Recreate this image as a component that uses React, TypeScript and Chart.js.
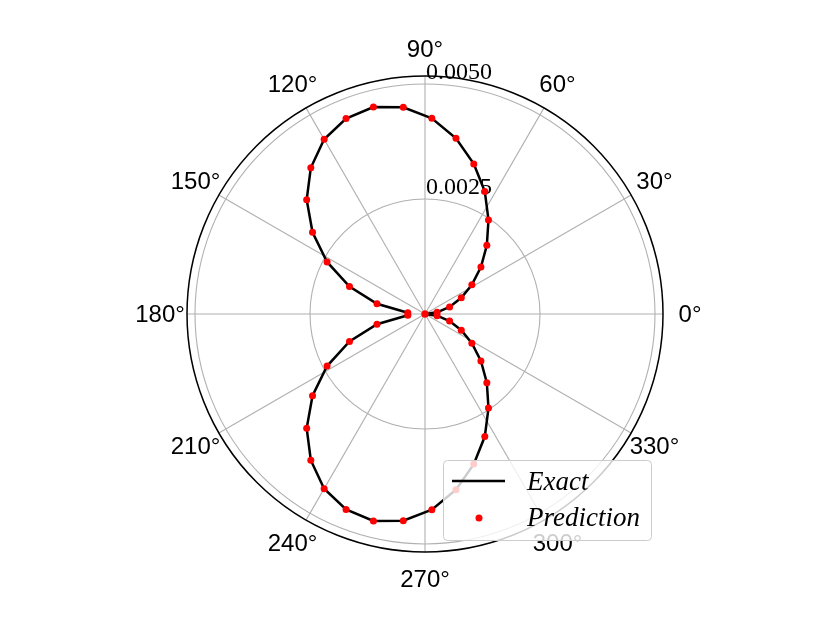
import React, { useEffect, useRef } from "react";
import { Chart, registerables } from "chart.js";

Chart.register(...registerables);

// Angles (degrees) of the samples
const thetaDeg: number[] = [
  0, 8, 16, 24, 32, 40, 48, 56, 64, 72, 80, 88, 96, 104, 112, 120, 128, 136, 144, 152, 160, 168, 176,
  184, 192, 200, 208, 216, 224, 232, 240, 248, 256, 264, 272, 280, 288, 296, 304, 312, 320, 328, 336, 344, 352, 360,
];

// Exact radial values
const exactR: number[] = [
  0, 0.000266, 0.000556, 0.000864, 0.001201, 0.001587, 0.002009, 0.002468, 0.002965, 0.003431, 0.003879,
  0.004258, 0.004519, 0.004636, 0.004582, 0.004385, 0.004032, 0.003576, 0.003022, 0.002411, 0.001747,
  0.001067, 0.000374,
  0.000374, 0.001067, 0.001747, 0.002411, 0.003022, 0.003576, 0.004032, 0.004385, 0.004582, 0.004636,
  0.004519, 0.004258, 0.003879, 0.003431, 0.002965, 0.002468, 0.002009, 0.001587, 0.001201, 0.000864,
  0.000556, 0.000266, 0,
];

// Predicted radial values
const predR: number[] = [
  0, 0.000266, 0.000556, 0.000864, 0.001201, 0.001587, 0.002009, 0.002468, 0.002965, 0.003431, 0.003879,
  0.004258, 0.004519, 0.004636, 0.004582, 0.004385, 0.004032, 0.003576, 0.003022, 0.002411, 0.001747,
  0.001067, 0.000374,
  0.000374, 0.001067, 0.001747, 0.002411, 0.003022, 0.003576, 0.004032, 0.004385, 0.004582, 0.004636,
  0.004519, 0.004258, 0.003879, 0.003431, 0.002965, 0.002468, 0.002009, 0.001587, 0.001201, 0.000864,
  0.000556, 0.000266, 0,
];

const rTicks: number[] = [0.0025, 0.005];
const rTickLabels: string[] = ["0.0025", "0.0050"];
const angleTicks: number[] = [0, 30, 60, 90, 120, 150, 180, 210, 240, 270, 300, 330];
const rMax = 0.0051739;
const legendLabels: string[] = ["Exact", "Prediction"];

const toXY = (r: number[]) =>
  r.map((v, i) => {
    const t = (thetaDeg[i] * Math.PI) / 180;
    return { x: v * Math.cos(t), y: v * Math.sin(t) };
  });

const polarPlugin = {
  id: "polarGrid",
  beforeDatasetsDraw(chart: any) {
    const ctx = chart.ctx;
    const xs = chart.scales.x;
    const ys = chart.scales.y;
    const cx = xs.getPixelForValue(0);
    const cy = ys.getPixelForValue(0);
    const R = xs.getPixelForValue(rMax) - cx;
    ctx.save();
    // grid circles
    ctx.strokeStyle = "#b0b0b0";
    ctx.lineWidth = 1.1;
    rTicks.forEach((v) => {
      const rr = xs.getPixelForValue(v) - cx;
      ctx.beginPath();
      ctx.arc(cx, cy, rr, 0, Math.PI * 2);
      ctx.stroke();
    });
    // spokes
    angleTicks.forEach((a) => {
      const t = (a * Math.PI) / 180;
      ctx.beginPath();
      ctx.moveTo(cx, cy);
      ctx.lineTo(cx + R * Math.cos(t), cy - R * Math.sin(t));
      ctx.stroke();
    });
    // r tick labels
    ctx.fillStyle = "#000";
    ctx.font = "24px 'Liberation Serif', serif";
    ctx.textAlign = "left";
    ctx.textBaseline = "alphabetic";
    rTicks.forEach((v, i) => {
      const py = ys.getPixelForValue(v);
      ctx.fillText(rTickLabels[i], cx + 1, py - 5);
    });
    // outer spine
    ctx.strokeStyle = "#000";
    ctx.lineWidth = 1.5;
    ctx.beginPath();
    ctx.arc(cx, cy, R, 0, Math.PI * 2);
    ctx.stroke();
    // angle labels
    ctx.font = "24px 'Liberation Sans', sans-serif";
    ctx.textAlign = "center";
    ctx.textBaseline = "middle";
    const LR = R + 27;
    angleTicks.forEach((a) => {
      const t = (a * Math.PI) / 180;
      ctx.fillText(a + "°", cx + LR * Math.cos(t), cy - LR * Math.sin(t) + 1);
    });
    ctx.restore();
  },
  afterDraw(chart: any) {
    const ctx = chart.ctx;
    ctx.save();
    const bx = 443.5, by = 460.5, bw = 208, bh = 80;
    ctx.beginPath();
    ctx.roundRect(bx, by, bw, bh, 4);
    ctx.fillStyle = "rgba(255,255,255,0.8)";
    ctx.fill();
    ctx.strokeStyle = "#cccccc";
    ctx.lineWidth = 1;
    ctx.stroke();
    // Exact entry
    ctx.strokeStyle = "#000";
    ctx.lineWidth = 2.5;
    ctx.beginPath();
    ctx.moveTo(452, 481);
    ctx.lineTo(505, 481);
    ctx.stroke();
    // Prediction entry
    ctx.fillStyle = "#ff0000";
    ctx.beginPath();
    ctx.arc(479, 518, 3.5, 0, Math.PI * 2);
    ctx.fill();
    ctx.fillStyle = "#000";
    ctx.font = "italic 27px 'Liberation Serif', serif";
    ctx.textAlign = "left";
    ctx.textBaseline = "alphabetic";
    ctx.fillText(legendLabels[0], 527, 489.5);
    ctx.fillText(legendLabels[1], 527, 526);
    ctx.restore();
  },
};

export default function App() {
  const ref = useRef<HTMLCanvasElement>(null);
  useEffect(() => {
    document.body.style.margin = "0";
    const chart = new Chart(ref.current!, {
      type: "scatter",
      data: {
        datasets: [
          {
            label: legendLabels[1],
            data: toXY(predR),
            showLine: false,
            pointRadius: 3.5,
            pointBackgroundColor: "#ff0000",
            pointBorderWidth: 0,
            borderColor: "#ff0000",
            order: 0,
          },
          {
            label: legendLabels[0],
            data: toXY(exactR),
            showLine: true,
            pointRadius: 0,
            borderColor: "#000000",
            borderWidth: 2.5,
            fill: false,
            order: 1,
          },
        ],
      },
      options: {
        animation: false,
        responsive: false,
        maintainAspectRatio: false,
        devicePixelRatio: 1,
        layout: { padding: { left: 187, right: 167, top: 76, bottom: 71 } },
        plugins: { legend: { display: false }, tooltip: { enabled: false } },
        scales: {
          x: { type: "linear", min: -rMax, max: rMax, display: false },
          y: { type: "linear", min: -rMax, max: rMax, display: false },
        },
      },
      plugins: [polarPlugin],
    });
    return () => chart.destroy();
  }, []);
  return (
    <div style={{ position: "absolute", left: 0, top: 0, width: 830, height: 623, background: "#fff" }}>
      <canvas ref={ref} width={830} height={623} />
    </div>
  );
}
